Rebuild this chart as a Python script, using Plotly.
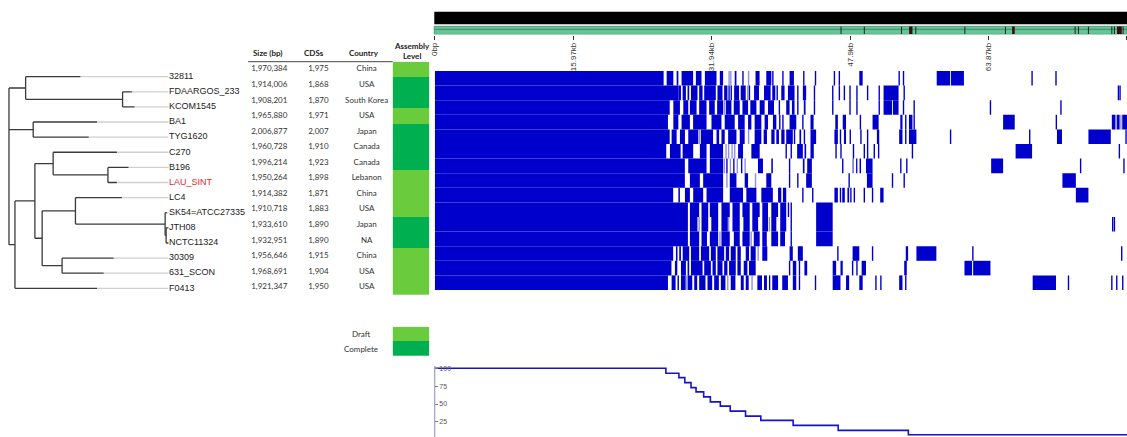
import plotly.graph_objects as go

# ---------------- data ----------------
STRAINS = ["32811", "FDAARGOS_233", "KCOM1545", "BA1", "TYG1620", "C270", "B196", "LAU_SINT",
           "LC4", "SK54=ATCC27335", "JTH08", "NCTC11324", "30309", "631_SCON", "F0413"]
SIZE_BP = ["1,970,384", "1,914,006", "1,908,201", "1,965,880", "2,006,877", "1,960,728", "1,996,214",
           "1,950,264", "1,914,382", "1,910,718", "1,933,610", "1,932,951", "1,956,646", "1,968,691", "1,921,347"]
CDS = ["1,975", "1,868", "1,870", "1,971", "2,007", "1,910", "1,923", "1,898", "1,871", "1,883",
       "1,890", "1,890", "1,915", "1,904", "1,950"]
COUNTRY = ["China", "USA", "South Korea", "USA", "Japan", "Canada", "Canada", "Lebanon", "China", "USA",
           "Japan", "NA", "China", "USA", "USA"]
ASSEMBLY = ["Draft", "Complete", "Complete", "Draft", "Complete", "Complete", "Complete", "Draft",
            "Draft", "Draft", "Complete", "Complete", "Draft", "Draft", "Draft"]
HEADERS = ["Size (bp)", "CDSs", "Country"]
LEVELS = ["Draft", "Complete"]
HIGHLIGHT = "LAU_SINT"

# tree: internal = ("", node depth, children), leaf = (name, tip depth)
TREE = ("", 5, [
    ("", 21.7, [("32811", 76.7),
                ("", 119, [("FDAARGOS_233", 128.3), ("KCOM1545", 131)])]),
    ("", 29.3, [("BA1", 93.3), ("TYG1620", 85)]),
    ("", 11, [
        ("", 31, [
            ("", 49.3, [("C270", 113.3),
                        ("", 104.3, [("B196", 125), ("LAU_SINT", 113.3)])]),
            ("", 38.3, [
                ("", 71.7, [("LC4", 118.3),
                            ("", 161.7, [("SK54=ATCC27335", 163.3),
                                         ("", 162.7, [("JTH08", 165), ("NCTC11324", 165)])])]),
                ("", 58.3, [("30309", 110), ("631_SCON", 100)]),
            ]),
        ]),
        ("F0413", 93.3),
    ]),
])
LEAF_ALIGN = 165

# presence / absence (kb)
CORE_END_KB = [26.4, 28.1, 27.1, 26.9, 27.1, 26.7, 28.85, 28.85, 27.5, 29.2, 29.2, 29.2, 27.5, 27.3, 26.9]
BLOCKS_KB = [
    [(26.75, 27.52), (27.9, 28.1), (28.47, 29.8), (30.12, 30.77), (31.16, 32.5), (32.88, 33.26), (34.6, 34.8),
     (37.0, 37.47), (38.24, 38.82), (40.93, 41.43), (48.97, 49.36), (57.9, 59.45), (59.55, 61.04)],
    [(28.1, 28.4), (28.59, 28.97), (29.16, 29.35), (29.55, 30.31), (30.5, 30.89), (31.08, 32.42), (32.61, 33.19),
     (33.38, 33.76), (34.53, 35.1), (35.29, 35.87), (36.83, 37.4), (37.98, 38.74), (38.93, 39.28), (39.97, 40.35),
     (40.74, 41.5), (42.46, 42.84), (51.77, 53.5)],
    [(27.52, 28.28), (28.67, 29.24), (29.43, 30.2), (30.5, 31.35), (31.65, 32.3), (32.57, 33.26), (33.57, 34.22),
     (34.49, 35.18), (35.49, 36.14), (36.4, 37.1), (37.48, 38.05), (38.44, 39.13), (40.54, 40.93), (41.2, 41.5),
     (42.57, 42.77), (51.77, 52.75), (52.85, 53.5)],
    [(27.52, 28.1), (28.47, 29.43), (29.8, 31.35), (31.92, 33.07), (33.45, 34.6), (34.99, 35.75), (36.14, 36.52),
     (36.9, 37.67), (38.05, 38.44), (39.01, 39.4), (40.93, 41.7), (43.34, 43.7), (46.2, 46.5), (47.06, 47.44),
     (50.5, 51.2), (53.7, 53.95), (54.7, 55.1), (65.56, 66.9), (78.1, 78.5), (78.7, 79.0), (79.3, 79.85)],
    [(27.32, 27.9), (28.28, 28.86), (29.24, 30.4), (30.7, 32.1), (32.5, 32.8), (33.07, 33.45), (33.84, 34.8),
     (35.18, 35.75), (36.9, 37.67), (37.94, 38.32), (38.82, 39.2), (39.4, 39.7), (39.97, 40.35), (40.54, 41.3),
     (42.07, 42.26), (43.34, 43.99), (46.1, 46.5), (47.2, 47.44), (51.0, 51.27), (53.57, 53.95), (54.7, 55.56),
     (71.77, 72.35), (75.4, 77.98)],
    [(27.13, 28.36), (28.59, 29.81), (30.58, 31.35), (31.73, 33.26), (34.99, 35.56), (36.52, 37.48), (41.8, 42.46),
     (42.65, 42.84), (43.34, 43.72), (67.0, 68.9)],
    [(29.24, 31.35), (31.73, 33.26), (37.28, 37.86), (38.82, 39.0), (42.46, 42.65), (42.96, 43.5), (48.2, 48.3),
     (48.6, 48.75), (49.0, 49.17), (49.74, 50.5), (64.18, 65.56)],
    [(29.43, 30.58), (30.96, 33.26), (34.03, 34.8), (35.75, 36.14), (38.24, 38.82), (42.84, 43.5), (49.85, 50.5),
     (72.4, 73.95)],
    [(28.1, 28.28), (28.86, 29.43), (29.81, 30.96), (31.35, 33.26), (34.03, 35.56), (35.94, 37.1), (37.67, 39.0),
     (39.6, 39.97), (40.16, 40.54), (46.1, 46.5), (47.0, 47.3), (47.6, 47.8), (51.38, 51.77), (73.95, 75.4)],
    [(29.43, 30.5), (30.77, 31.54), (31.73, 32.69), (33.07, 34.03), (34.34, 35.18), (35.49, 36.33), (36.63, 37.48),
     (37.78, 38.44), (38.82, 39.6), (39.85, 40.54), (43.99, 45.9)],
    [(29.43, 30.3), (30.77, 31.54), (31.9, 32.69), (33.07, 33.8), (34.34, 35.18), (35.6, 36.33), (36.63, 37.3),
     (37.78, 38.44), (38.82, 39.4), (39.85, 40.54), (43.99, 45.9)],
    [(29.43, 30.5), (30.77, 31.4), (31.73, 32.69), (33.07, 34.03), (34.5, 35.18), (35.49, 36.33), (36.8, 37.48),
     (37.78, 38.3), (38.82, 39.6), (39.85, 40.4), (43.99, 45.9)],
    [(27.82, 28.0), (28.2, 28.4), (28.6, 29.35), (29.55, 30.5), (30.7, 31.65), (31.85, 32.42), (32.6, 33.38),
     (33.57, 33.95), (34.14, 34.72), (34.91, 35.3), (35.87, 36.25), (36.44, 37.02), (37.78, 38.36), (40.93, 41.3),
     (41.88, 42.46), (48.2, 48.97), (54.33, 54.6), (55.56, 57.86)],
    [(27.7, 27.98), (28.4, 28.97), (29.16, 29.35), (29.55, 30.89), (31.08, 31.85), (32.04, 32.42), (32.61, 33.19),
     (33.38, 33.76), (33.95, 34.72), (34.91, 35.3), (35.64, 36.06), (36.25, 37.02), (41.3, 41.7), (42.64, 42.96),
     (45.9, 46.3), (46.8, 47.06), (49.24, 49.74), (54.15, 54.45), (61.1, 61.98), (62.1, 64.1)],
    [(27.32, 27.78), (28.0, 28.17), (28.4, 28.93), (29.16, 29.7), (29.93, 30.27), (30.5, 31.23), (31.46, 32.0),
     (32.23, 32.77), (33.0, 33.53), (34.14, 34.68), (35.3, 35.64), (35.87, 36.21), (37.21, 37.75), (37.98, 38.32),
     (38.55, 38.7), (38.93, 39.6), (40.08, 40.74), (41.3, 41.7), (45.9, 46.8), (47.44, 47.8), (48.97, 49.36),
     (53.57, 53.95), (68.97, 71.66)],
]
LINES_KB = [
    [35.55, 39.0, 40.16, 42.57, 43.92, 46.1, 46.67, 53.57, 54.07, 68.9, 71.66],
    [33.95, 34.2, 36.3, 39.5, 41.88, 43.8, 45.91, 46.67, 47.25, 47.9, 48.7, 49.93, 51.27, 54.15, 78.86, 79.05],
    [39.75, 41.88, 43.8, 45.91, 47.9, 48.7, 51.27, 54.07, 55.3, 64.1, 72.23],
    [39.8, 40.16, 42.46, 49.1, 54.33, 55.3, 71.7],
    [41.5, 42.64, 46.8, 47.93, 49.16, 49.93, 54.33, 59.5, 68.63, 79.74],
    [40.54, 41.12, 46.29, 46.86, 48.3, 49.55, 49.93, 50.7, 51.2, 55.1, 78.97],
    [33.7, 34.5, 35.4, 40.93, 47.06, 53.76, 54.45, 74.5, 79.5],
    [40.93, 41.88, 47.8, 52.8, 54.15],
    [39.78, 42.46, 43.6, 46.8, 48.0, 48.4, 49.55, 50.5],
    [40.8, 41.12],
    [41.12, 78.2, 78.4],
    [41.12],
    [46.5, 50.5, 62.07, 79.24],
    [40.93, 42.07, 48.2, 48.7],
    [42.07, 43.92, 50.89, 51.46, 54.33, 73.1, 78.1, 78.67, 79.36],
]
FAINT_KB = [
    [33.95, 34.15, 36.2], [31.6, 36.1, 38.3], [29.0, 30.9, 33.4, 35.9], [30.5, 32.4, 34.0, 78.6, 79.15],
    [30.55, 31.2, 36.2], [33.6, 33.9, 34.3, 34.6], [30.0, 33.4, 34.1, 34.9, 35.8], [31.9, 33.7, 37.0],
    [30.2, 32.0, 34.8, 36.5], [30.1, 32.2, 35.9, 39.2], [30.5, 33.9, 38.6], [32.9, 36.5],
    [30.0, 32.0, 37.3], [30.2, 31.5, 34.3], [29.0, 33.8, 36.6],
]

RULER_TICKS_KB = [0, 15.97, 31.94, 47.9, 63.87, 79.84]
RULER_TICK_TEXT = ["0bp", "15.97kb", "31.94kb", "47.9kb", "63.87kb", "79.84kb"]
RULER_MARKS_KB = [46.86, 49.55, 53.84, 55.49, 61.15, 65.83, 73.87, 74.25, 75.4, 78.1, 78.4, 79.4]
RULER_WIDE_KB = [(54.72, 55.1), (66.6, 66.9), (78.7, 79.25)]

FREQ_X_KB = [0, 26.66, 28.16, 28.84, 29.56, 30.14, 31.02, 31.79, 32.94, 34.08, 35.85, 37.61, 41.34, 46.54, 54.63]
FREQ_PCT = [100, 93, 87, 80, 73, 67, 60, 53, 47, 40, 33, 27, 20, 13, 7]
FREQ_TICKS = [25, 50, 75, 100]

# ---------------- layout constants ----------------
W, H = 1127, 437
HEAT_LEFT = 432.3
KB_MAX = 79.85
BLUE = "#0000CC"
FAINT = "#8f8fe8"
LIGHT_G = "#6ACB3D"
DARK_G = "#00AF4F"
LINE_W = 0.16
FONT_T = "Lato"
FONT_A = "Liberation Sans, Arial"


def px_x(p):
    return p / W


def px_y(p):
    return 1 - p / H


rows = list(range(len(STRAINS)))
traces = []

# ---------- heatmap (presence/absence) ----------
by, bb, bl = [], [], []
fy, fb, fl = [], [], []
for i in rows:
    by.append(i); bb.append(0); bl.append(CORE_END_KB[i])
    for s, e in BLOCKS_KB[i]:
        by.append(i); bb.append(s); bl.append(e - s)
    for p in LINES_KB[i]:
        by.append(i); bb.append(p - LINE_W / 2); bl.append(LINE_W)
    for p in FAINT_KB[i]:
        fy.append(i); fb.append(p - LINE_W / 2); fl.append(LINE_W)
traces.append(go.Bar(orientation="h", y=fy, base=fb, x=fl, width=1,
                     marker=dict(color=FAINT, line=dict(width=0)), xaxis="x", yaxis="y", hoverinfo="skip"))
traces.append(go.Bar(orientation="h", y=by, base=bb, x=bl, width=1,
                     marker=dict(color=BLUE, line=dict(width=0)), xaxis="x", yaxis="y", hoverinfo="skip"))

# ---------- ruler marks ----------
mx, my = [], []
for p in RULER_MARKS_KB:
    mx += [p, p, None]; my += [26.6, 34.0, None]
traces.append(go.Scatter(x=mx, y=my, mode="lines", line=dict(color="#222", width=1),
                         xaxis="x2", yaxis="y2", hoverinfo="skip"))
traces.append(go.Bar(orientation="h", y=[30.3] * len(RULER_WIDE_KB), base=[s for s, e in RULER_WIDE_KB],
                     x=[e - s for s, e in RULER_WIDE_KB], width=7.4,
                     marker=dict(color="#3a0c0c", line=dict(width=0)), xaxis="x2", yaxis="y2", hoverinfo="skip"))

# ---------- frequency step line ----------
traces.append(go.Scatter(x=FREQ_X_KB + [KB_MAX], y=FREQ_PCT + [FREQ_PCT[-1]], mode="lines",
                         line=dict(color="#1414c8", width=1.6, shape="hv"),
                         xaxis="x3", yaxis="y3", hoverinfo="skip", cliponaxis=False))

# ---------- dendrogram ----------
seg_x, seg_y, ext_x, ext_y = [], [], [], []
counter = [0]


def walk(node):
    if len(node) == 2:
        y = counter[0]
        counter[0] += 1
        ext_x.extend([node[1], LEAF_ALIGN, None]); ext_y.extend([y, y, None])
        return y, node[1]
    depth = node[1]
    ys = []
    for ch in node[2]:
        cy, cd = walk(ch)
        seg_x.extend([depth, cd, None]); seg_y.extend([cy, cy, None])
        ys.append(cy)
    seg_x.extend([depth, depth, None]); seg_y.extend([min(ys), max(ys), None])
    return (min(ys) + max(ys)) / 2, depth


walk(TREE)
traces.append(go.Scatter(x=ext_x, y=ext_y, mode="lines", line=dict(color="#d0d0d0", width=1.3),
                         xaxis="x4", yaxis="y4", hoverinfo="skip"))
traces.append(go.Scatter(x=seg_x, y=seg_y, mode="lines", line=dict(color="#3a3a3a", width=1.3),
                         xaxis="x4", yaxis="y4", hoverinfo="skip"))
traces.append(go.Scatter(x=[LEAF_ALIGN + 0.5] * len(rows), y=rows, text=STRAINS, mode="text",
                         textposition="middle right", cliponaxis=False,
                         textfont=dict(family=FONT_A, size=9,
                                       color=["#e8262a" if s == HIGHLIGHT else "#222" for s in STRAINS]),
                         xaxis="x4", yaxis="y4", hoverinfo="skip"))

# ---------- table ----------
COL_X = [266.2, 315.5, 364.0]
for cx, vals in zip(COL_X, [SIZE_BP, CDS, COUNTRY]):
    traces.append(go.Scatter(x=[cx] * len(rows), y=rows, text=vals, mode="text", cliponaxis=False,
                             textposition="middle center",
                             textfont=dict(family=FONT_T, size=8, color="#333"),
                             xaxis="x5", yaxis="y5", hoverinfo="skip"))

lvl = [[LEVELS.index(a)] for a in ASSEMBLY]
cs = [[0, LIGHT_G], [0.5, LIGHT_G], [0.5, DARK_G], [1, DARK_G]]
traces.append(go.Heatmap(z=lvl, x=[0], y=rows, colorscale=cs, zmin=0, zmax=1, showscale=False,
                         xaxis="x6", yaxis="y6", hoverinfo="skip"))
traces.append(go.Heatmap(z=[[0], [1]], x=[0], y=[0, 1], colorscale=cs, zmin=0, zmax=1, showscale=False,
                         xaxis="x7", yaxis="y7", hoverinfo="skip"))

heat_dom = [px_x(HEAT_LEFT), 1]
hid = dict(visible=False, showgrid=False, zeroline=False)
FREQ_TOP_PX = 358
FREQ_ZERO_PX, FREQ_PX_PER = 439.7, 0.714
layout = go.Layout(
    width=W, height=H, margin=dict(l=0, r=0, t=0, b=0),
    paper_bgcolor="white", plot_bgcolor="rgba(0,0,0,0)", showlegend=False, barmode="overlay",
    xaxis=dict(domain=heat_dom, range=[0, KB_MAX], anchor="y", **hid),
    yaxis=dict(domain=[px_y(290), px_y(71)], range=[14.5, -0.5], anchor="x", **hid),
    xaxis2=dict(domain=heat_dom, range=[0, KB_MAX], anchor="y2", showgrid=False, zeroline=False,
                showline=False, ticks="outside", ticklen=4, tickcolor="#333", tickwidth=1,
                tickvals=RULER_TICKS_KB, ticktext=RULER_TICK_TEXT, tickangle=-90,
                tickfont=dict(family=FONT_A, size=8, color="#333")),
    yaxis2=dict(domain=[px_y(34.5), px_y(10)], range=[34.5, 10], anchor="x2", **hid),
    xaxis3=dict(domain=heat_dom, range=[0, KB_MAX], anchor="y3", **hid),
    yaxis3=dict(domain=[0, px_y(FREQ_TOP_PX)],
                range=[(FREQ_ZERO_PX - H) / FREQ_PX_PER, (FREQ_ZERO_PX - FREQ_TOP_PX) / FREQ_PX_PER],
                anchor="x3", showgrid=False, zeroline=False,
                showline=False, ticks="inside", ticklen=3, tickcolor="#777",
                tickvals=FREQ_TICKS, ticklabelposition="inside",
                tickfont=dict(family=FONT_A, size=7, color="#555")),
    xaxis4=dict(domain=[0, px_x(170)], range=[0, 170], anchor="y4", **hid),
    yaxis4=dict(domain=[px_y(295.9), px_y(69.1)], range=[14.5, -0.5], anchor="x4", **hid),
    xaxis5=dict(domain=[0, 1], range=[0, W], anchor="y5", **hid),
    yaxis5=dict(domain=[px_y(295), px_y(61.7)], range=[14.5, -0.5], anchor="x5", **hid),
    xaxis6=dict(domain=[px_x(390), px_x(426.7)], range=[-0.5, 0.5], anchor="y6", **hid),
    yaxis6=dict(domain=[px_y(295), px_y(61.7)], range=[14.5, -0.5], anchor="x6", **hid),
    xaxis7=dict(domain=[px_x(390), px_x(426.7)], range=[-0.5, 0.5], anchor="y7", **hid),
    yaxis7=dict(domain=[px_y(356), px_y(326.7)], range=[1.5, -0.5], anchor="x7", **hid),
)

shapes = [
    dict(type="rect", xref="paper", yref="y2", x0=px_x(HEAT_LEFT - 0.5), x1=1, y0=11.7, y1=24.3,
         fillcolor="black", line=dict(width=0), layer="below"),
    dict(type="rect", xref="paper", yref="y2", x0=px_x(HEAT_LEFT - 0.5), x1=1, y0=26.3, y1=34.3,
         fillcolor="#66c596", line=dict(color="#4f9a78", width=1), layer="below"),
    dict(type="line", xref="paper", yref="y2", x0=px_x(HEAT_LEFT - 0.5), x1=1, y0=29.3, y1=29.3,
         line=dict(color="#3f8a66", width=1), layer="below"),
    dict(type="line", xref="paper", yref="paper", x0=px_x(245), x1=px_x(390), y0=px_y(61.7), y1=px_y(61.7),
         line=dict(color="#444", width=1)),
    dict(type="line", xref="paper", yref="paper", x0=px_x(HEAT_LEFT), x1=px_x(HEAT_LEFT),
         y0=px_y(366), y1=0, line=dict(color="#8a8ab8", width=1)),
]

annotations = []
for cx, txt in zip([264.5, 311.0, 360.8], HEADERS):
    annotations.append(dict(x=px_x(cx), y=px_y(53.3), xref="paper", yref="paper", text="<b>%s</b>" % txt,
                            showarrow=False, xanchor="center", yanchor="middle",
                            font=dict(family=FONT_T, size=8, color="#222")))
annotations.append(dict(x=px_x(409), y=px_y(51.2), xref="paper", yref="paper",
                        text="<b>Assembly</b><br><b>Level</b>", showarrow=False, xanchor="center",
                        yanchor="middle", font=dict(family=FONT_T, size=8, color="#222")))
for yy, txt in zip([334.0, 349.3], LEVELS):
    annotations.append(dict(x=px_x(358.3), y=px_y(yy), xref="paper", yref="paper", text=txt,
                            showarrow=False, xanchor="center", yanchor="middle",
                            font=dict(family=FONT_T, size=8, color="#333")))

layout.shapes = shapes
layout.annotations = annotations

fig = go.Figure(data=traces, layout=layout)
fig.write_html("out.html", config={"displayModeBar": False, "staticPlot": True},
               post_script="document.body.style.margin='0';document.body.style.overflow='hidden';")
